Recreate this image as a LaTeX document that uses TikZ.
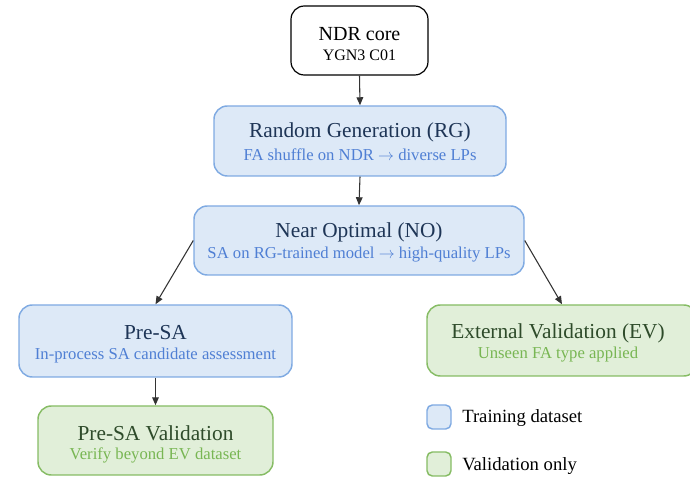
\documentclass[tikz,border=0pt]{standalone}
\usepackage{fontspec}
\setmainfont{Liberation Serif}
\usetikzlibrary{arrows.meta}

\definecolor{blueFill}{HTML}{DDE9F7}
\definecolor{blueLine}{HTML}{7FAAE2}
\definecolor{blueHead}{HTML}{1E3556}
\definecolor{blueSub}{HTML}{4F7FD4}
\definecolor{greenFill}{HTML}{E1EFD9}
\definecolor{greenLine}{HTML}{86BC64}
\definecolor{greenHead}{HTML}{2E4B2A}
\definecolor{greenSub}{HTML}{78B653}
\definecolor{flowArrow}{HTML}{333333}

\tikzset{
  box/.style={draw, rounded corners=10pt, line width=1.1pt, inner sep=0pt},
  corebox/.style={box, draw=black, fill=white, line width=0.9pt},
  trainbox/.style={box, draw=blueLine, fill=blueFill},
  validbox/.style={box, draw=greenLine, fill=greenFill},
  headB/.style={text=blueHead, font=\fontsize{16}{18}\selectfont, inner sep=0pt},
  subB/.style={text=blueSub, font=\fontsize{12.5}{14}\selectfont, inner sep=0pt},
  headG/.style={text=greenHead, font=\fontsize{16}{18}\selectfont, inner sep=0pt},
  subG/.style={text=greenSub, font=\fontsize{12.5}{14}\selectfont, inner sep=0pt},
  headK/.style={text=black, font=\fontsize{15}{17}\selectfont, inner sep=0pt},
  subK/.style={text=black, font=\fontsize{12}{14}\selectfont, inner sep=0pt},
  flow/.style={draw=flowArrow, line width=0.8pt, -{Triangle[length=6pt,width=5pt]}},
  keybox/.style={rounded corners=4pt, line width=1.1pt, inner sep=0pt, minimum width=18pt, minimum height=18pt},
  keytext/.style={anchor=west, text=black, font=\fontsize{14}{16}\selectfont, inner sep=0pt}
}

\begin{document}
\begin{tikzpicture}[x=0.75pt, y=-0.75pt]
  \useasboundingbox (0,0) rectangle (690,477);
  \clip (0,0) rectangle (690,477);

  % source core
  \node[corebox, minimum width=102.75pt, minimum height=51.75pt] (ndr) at (359.5,40.5) {};
  \node[headK] (ndrT) at (359.5,34) {NDR core};
  \node[subK] (ndrS) at (359.5,55) {YGN3 C01};

  % random generation
  \node[trainbox, minimum width=219pt, minimum height=52.5pt] (rg) at (360,141) {};
  \node[headB] (rgT) at (360,132) {Random Generation (RG)};
  \node[subB] (rgS) at (360,155) {FA shuffle on NDR $\rightarrow$ diverse LPs};

  % near optimal
  \node[trainbox, minimum width=247.5pt, minimum height=51.75pt] (no) at (359,240.5) {};
  \node[headB] (noT) at (359,232) {Near Optimal (NO)};
  \node[subB] (noS) at (359,255) {SA on RG-trained model $\rightarrow$ high-quality LPs};

  % pre-SA
  \node[trainbox, minimum width=204.75pt, minimum height=54pt] (pre) at (155.5,341) {};
  \node[headB] (preT) at (155.5,333) {Pre-SA};
  \node[subB] (preS) at (155.5,355) {In-process SA candidate assessment};

  % pre-SA validation
  \node[validbox, minimum width=176.25pt, minimum height=51.75pt] (psv) at (155.5,440.5) {};
  \node[headG] (psvT) at (155.5,433) {Pre-SA Validation};
  \node[subG] (psvS) at (155.5,455) {Verify beyond EV dataset};

  % external validation
  \node[validbox, minimum width=202.5pt, minimum height=53.25pt] (ev) at (562,340.5) {};
  \node[headG] (evT) at (558,333) {External Validation (EV)};
  \node[subG] (evS) at (558,355) {Unseen FA type applied};

  % flow
  \draw[flow] (ndr.south) -- (rg.north);
  \draw[flow] (rg.south) -- (no.north);
  \draw[flow] (no.west) -- (pre.north);
  \draw[flow] (no.east) -- (ev.north);
  \draw[flow] (pre.south) -- (psv.north);

  % key
  \node[keybox, draw=blueLine, fill=blueFill] (keyTrain) at (439,417) {};
  \node[keytext] (keyTrainT) at (462,418) {Training dataset};
  \node[keybox, draw=greenLine, fill=greenFill] (keyValid) at (439,464) {};
  \node[keytext] (keyValidT) at (462,466) {Validation only};
\end{tikzpicture}
\end{document}
